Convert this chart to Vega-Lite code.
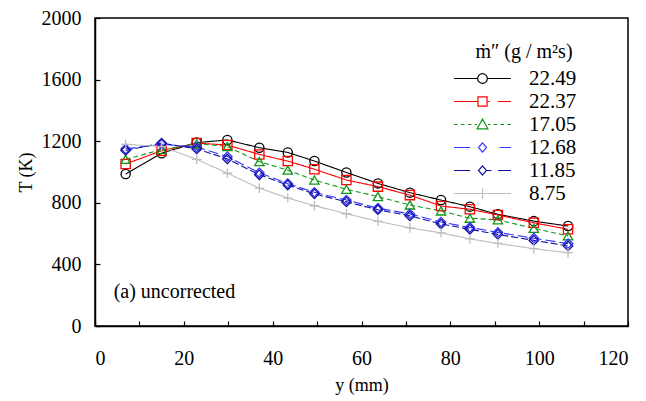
{
  "$schema": "https://vega.github.io/schema/vega-lite/v6.json",
  "width": 533,
  "height": 308,
  "autosize": "none",
  "padding": {"left": 95, "top": 18, "right": 18, "bottom": 75},
  "background": "white",
  "config": {
    "view": {"stroke": "black", "strokeWidth": 1.5},
    "font": "Liberation Serif",
    "style": {"guide-label": {"font": "Liberation Serif"}, "guide-title": {"font": "Liberation Serif"}},
    "axis": {
      "grid": false,
      "domainColor": "black",
      "domainWidth": 1.5,
      "tickColor": "black",
      "tickWidth": 1.2,
      "tickSize": -5,
      "format": "d",
      "labelFont": "Liberation Serif",
      "labelFontSize": 20,
      "labelColor": "black",
      "titleFont": "Liberation Serif",
      "titleFontSize": 18,
      "titleFontWeight": "normal",
      "titleColor": "black"
    },
    "legend": {
      "titleFont": "Liberation Serif",
      "labelFont": "Liberation Serif"
    }
  },
  "data": {
    "values": [
      {"y": 6.9, "T": 987, "s": "22.49"}, {"y": 15.0, "T": 1122, "s": "22.49"}, {"y": 22.9, "T": 1191, "s": "22.49"}, {"y": 29.8, "T": 1208, "s": "22.49"}, {"y": 37.0, "T": 1158, "s": "22.49"}, {"y": 43.4, "T": 1127, "s": "22.49"}, {"y": 49.4, "T": 1071, "s": "22.49"}, {"y": 56.6, "T": 997, "s": "22.49"}, {"y": 63.7, "T": 926, "s": "22.49"}, {"y": 70.9, "T": 866, "s": "22.49"}, {"y": 77.9, "T": 818, "s": "22.49"}, {"y": 84.4, "T": 775, "s": "22.49"}, {"y": 90.7, "T": 725, "s": "22.49"}, {"y": 98.8, "T": 681, "s": "22.49"}, {"y": 106.5, "T": 649, "s": "22.49"},
      {"y": 6.9, "T": 1052, "s": "22.37"}, {"y": 15.0, "T": 1138, "s": "22.37"}, {"y": 22.9, "T": 1188, "s": "22.37"}, {"y": 29.8, "T": 1175, "s": "22.37"}, {"y": 37.0, "T": 1114, "s": "22.37"}, {"y": 43.4, "T": 1071, "s": "22.37"}, {"y": 49.4, "T": 1018, "s": "22.37"}, {"y": 56.6, "T": 948, "s": "22.37"}, {"y": 63.7, "T": 905, "s": "22.37"}, {"y": 70.9, "T": 850, "s": "22.37"}, {"y": 77.9, "T": 779, "s": "22.37"}, {"y": 84.4, "T": 758, "s": "22.37"}, {"y": 90.7, "T": 721, "s": "22.37"}, {"y": 98.8, "T": 670, "s": "22.37"}, {"y": 106.5, "T": 628, "s": "22.37"},
      {"y": 6.9, "T": 1082, "s": "17.05"}, {"y": 15.0, "T": 1145, "s": "17.05"}, {"y": 22.9, "T": 1185, "s": "17.05"}, {"y": 29.8, "T": 1165, "s": "17.05"}, {"y": 37.0, "T": 1067, "s": "17.05"}, {"y": 43.4, "T": 1012, "s": "17.05"}, {"y": 49.4, "T": 948, "s": "17.05"}, {"y": 56.6, "T": 888, "s": "17.05"}, {"y": 63.7, "T": 840, "s": "17.05"}, {"y": 70.9, "T": 786, "s": "17.05"}, {"y": 77.9, "T": 747, "s": "17.05"}, {"y": 84.4, "T": 700, "s": "17.05"}, {"y": 90.7, "T": 689, "s": "17.05"}, {"y": 98.8, "T": 634, "s": "17.05"}, {"y": 106.5, "T": 585, "s": "17.05"},
      {"y": 6.9, "T": 1150, "s": "12.68"}, {"y": 15.0, "T": 1180, "s": "12.68"}, {"y": 22.9, "T": 1162, "s": "12.68"}, {"y": 29.8, "T": 1100, "s": "12.68"}, {"y": 37.0, "T": 995, "s": "12.68"}, {"y": 43.4, "T": 925, "s": "12.68"}, {"y": 49.4, "T": 868, "s": "12.68"}, {"y": 56.6, "T": 818, "s": "12.68"}, {"y": 63.7, "T": 765, "s": "12.68"}, {"y": 70.9, "T": 728, "s": "12.68"}, {"y": 77.9, "T": 675, "s": "12.68"}, {"y": 84.4, "T": 640, "s": "12.68"}, {"y": 90.7, "T": 608, "s": "12.68"}, {"y": 98.8, "T": 570, "s": "12.68"}, {"y": 106.5, "T": 535, "s": "12.68"},
      {"y": 6.9, "T": 1140, "s": "11.85"}, {"y": 15.0, "T": 1188, "s": "11.85"}, {"y": 22.9, "T": 1150, "s": "11.85"}, {"y": 29.8, "T": 1085, "s": "11.85"}, {"y": 37.0, "T": 982, "s": "11.85"}, {"y": 43.4, "T": 915, "s": "11.85"}, {"y": 49.4, "T": 858, "s": "11.85"}, {"y": 56.6, "T": 806, "s": "11.85"}, {"y": 63.7, "T": 755, "s": "11.85"}, {"y": 70.9, "T": 715, "s": "11.85"}, {"y": 77.9, "T": 662, "s": "11.85"}, {"y": 84.4, "T": 628, "s": "11.85"}, {"y": 90.7, "T": 595, "s": "11.85"}, {"y": 98.8, "T": 556, "s": "11.85"}, {"y": 106.5, "T": 520, "s": "11.85"},
      {"y": 6.9, "T": 1180, "s": "8.75"}, {"y": 15.0, "T": 1165, "s": "8.75"}, {"y": 22.9, "T": 1082, "s": "8.75"}, {"y": 29.8, "T": 992, "s": "8.75"}, {"y": 37.0, "T": 895, "s": "8.75"}, {"y": 43.4, "T": 831, "s": "8.75"}, {"y": 49.4, "T": 781, "s": "8.75"}, {"y": 56.6, "T": 729, "s": "8.75"}, {"y": 63.7, "T": 680, "s": "8.75"}, {"y": 70.9, "T": 637, "s": "8.75"}, {"y": 77.9, "T": 605, "s": "8.75"}, {"y": 84.4, "T": 566, "s": "8.75"}, {"y": 90.7, "T": 536, "s": "8.75"}, {"y": 98.8, "T": 502, "s": "8.75"}, {"y": 106.5, "T": 476, "s": "8.75"}
    ]
  },
  "layer": [
    {
      "mark": {"type": "line", "strokeWidth": 1.1},
      "encoding": {
        "x": {
          "field": "y", "type": "quantitative",
          "scale": {"domain": [0, 120], "nice": false, "zero": true},
          "axis": {"title": "y (mm)", "values": [0,10,20,30,40,50,60,70,80,90,100,110,120], "labelExpr": "datum.value % 20 == 0 ? datum.label : ''", "labelPadding": 27, "titlePadding": 8, "labelFont": "Liberation Serif", "titleFont": "Liberation Serif"}
        },
        "y": {
          "field": "T", "type": "quantitative",
          "scale": {"domain": [0, 2000], "nice": false},
          "axis": {"title": "T (K)", "values": [0,200,400,600,800,1000,1200,1400,1600,1800,2000], "labelExpr": "datum.value % 400 == 0 ? datum.label : ''", "labelPadding": 19, "titlePadding": 6, "labelFont": "Liberation Serif", "titleFont": "Liberation Serif"}
        },
        "color": {"field": "s", "type": "nominal", "scale": {"domain": ["22.49","22.37","17.05","12.68","11.85","8.75"], "range": ["#000000","#ff0000","#11961a","#3434ff","#10109a","#bdbdbd"]}, "legend": null},
        "strokeDash": {"field": "s", "type": "nominal", "scale": {"domain": ["22.49","22.37","17.05","12.68","11.85","8.75"], "range": [[1,0],[1,0],[5,3],[10,4],[7,3],[1,0]]}, "legend": null},
        "order": {"field": "y", "type": "quantitative"}
      }
    },
    {
      "mark": {"type": "point", "filled": false, "opacity": 1},
      "encoding": {
        "x": {"field": "y", "type": "quantitative"},
        "y": {"field": "T", "type": "quantitative"},
        "color": {"field": "s", "type": "nominal", "scale": {"domain": ["22.49","22.37","17.05","12.68","11.85","8.75"], "range": ["#000000","#ff0000","#11961a","#3434ff","#10109a","#bdbdbd"]}, "legend": null},
        "shape": {"field": "s", "type": "nominal", "scale": {"domain": ["22.49","22.37","17.05","12.68","11.85","8.75"], "range": ["circle","square","triangle-up","diamond","diamond","M-1,0H1M0,-1V1"]}, "legend": null},
        "size": {"field": "s", "type": "nominal", "scale": {"domain": ["22.49","22.37","17.05","12.68","11.85","8.75"], "range": [85, 90, 95, 70, 100, 130]}, "legend": null},
        "strokeWidth": {"field": "s", "type": "nominal", "scale": {"domain": ["22.49","22.37","17.05","12.68","11.85","8.75"], "range": [1.3, 1.3, 1.3, 1.7, 2, 1.3]}, "legend": null}
      }
    },
    {
      "mark": {"type": "point", "filled": false, "opacity": 0, "size": 100},
      "encoding": {
        "x": {"field": "y", "type": "quantitative"},
        "y": {"field": "T", "type": "quantitative"},
        "color": {"field": "s", "type": "nominal", "scale": {"domain": ["22.49","22.37","17.05","12.68","11.85","8.75"], "range": ["#000000","#ff0000","#11961a","#3434ff","#10109a","#bdbdbd"]},
          "legend": {"title": "ṁ″  (g / m²s)", "orient": "none", "legendX": 377, "legendY": 24, "titleFont": "Liberation Serif", "labelFont": "Liberation Serif", "titleFontSize": 20, "titleFontWeight": "normal", "titleColor": "black", "titleAnchor": "middle", "titlePadding": 6, "labelFontSize": 21, "labelColor": "black", "labelOffset": 36, "symbolSize": 100, "symbolStrokeWidth": 1.2, "rowPadding": 1, "padding": 0,
            "encode": {"symbols": {"update": {"opacity": {"value": 1}, "strokeOpacity": {"value": 1}}}}}},
        "shape": {"field": "s", "type": "nominal", "scale": {"domain": ["22.49","22.37","17.05","12.68","11.85","8.75"], "range": [
          "M-5.7,0H-0.97M0.97,0H5.7M0.97,0A0.97,0.97 0 1,1 -0.97,0A0.97,0.97 0 1,1 0.97,0",
          "M-5.7,0H-0.91M0.91,0H1.4M3.1,0H5.7M-0.91,-0.91H0.91V0.91H-0.91Z",
          "M-5.7,0H-5M-4.3,0H-3.6M-2.9,0H-2.2M-1.6,0H-1.1M1.1,0H1.6M2.2,0H2.9M3.6,0H4.3M5,0H5.7M0,-1.08L1.08,0.86L-1.08,0.86Z",
          "M-5.7,0H-2.45M3.4,0H5.7M0,-0.92L0.8,0L0,0.92L-0.8,0Z",
          "M-5.7,0H-2.45M0.8,0H1.8M3.1,0H5.7M0,-0.92L0.8,0L0,0.92L-0.8,0Z",
          "M-5.7,0H5.7M0,-1.03V1.03"
        ]},
          "legend": {"title": "ṁ″  (g / m²s)", "orient": "none", "legendX": 377, "legendY": 24, "titleFont": "Liberation Serif", "labelFont": "Liberation Serif", "titleFontSize": 20, "titleFontWeight": "normal", "titleColor": "black", "titleAnchor": "middle", "titlePadding": 6, "labelFontSize": 21, "labelColor": "black", "labelOffset": 36, "symbolSize": 100, "symbolStrokeWidth": 1.2, "rowPadding": 1, "padding": 0,
            "encode": {"symbols": {"update": {"opacity": {"value": 1}, "strokeOpacity": {"value": 1}}}}}}
      }
    },
    {
      "data": {"values": [{"note": "(a) uncorrected"}]},
      "mark": {"type": "text", "align": "left", "baseline": "middle", "fontSize": 20, "font": "Liberation Serif", "color": "black"},
      "encoding": {
        "x": {"datum": 4.2, "type": "quantitative"},
        "y": {"datum": 221, "type": "quantitative"},
        "text": {"field": "note", "type": "nominal"}
      }
    }
  ],
  "resolve": {"scale": {"shape": "independent", "color": "independent", "size": "independent", "strokeWidth": "independent", "strokeDash": "independent"}}
}
